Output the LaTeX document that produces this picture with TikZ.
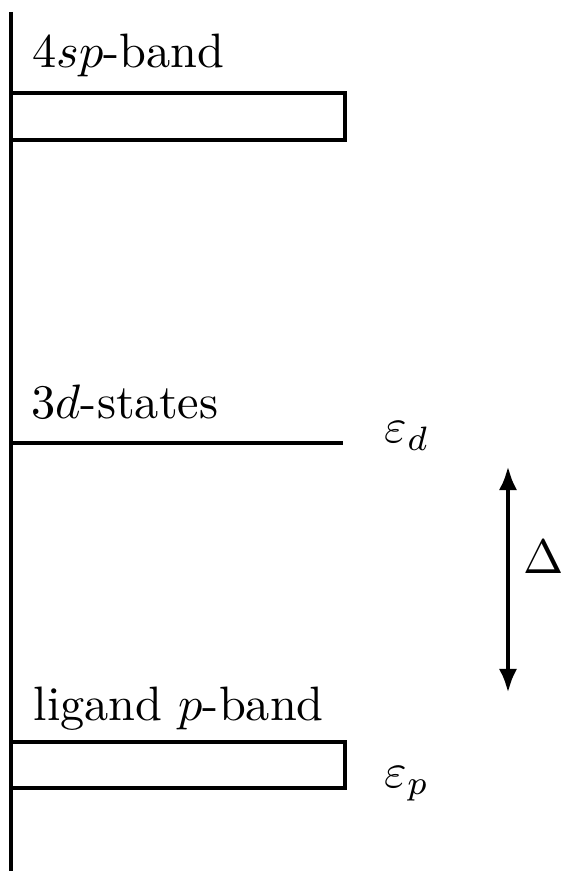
\documentclass[tikz,border=0pt]{standalone}
\usetikzlibrary{arrows.meta}
\begin{document}
\begin{tikzpicture}[x=0.207pt, y=-0.207pt, line width=0.7pt]

	\useasboundingbox (0,0) rectangle (561,871);

	\coordinate (axtop) at (11,12);
	\coordinate (axbot) at (11,871);
	\coordinate (dleft) at (11,443);
	\coordinate (dright) at (343,443);
	\coordinate (gaptop) at (508,466);
	\coordinate (gapbot) at (508,693);

	\node (splabel) [anchor=base west, inner sep=0pt] at (31,68) {$4sp$-band};
	\node (dlabel) [anchor=base west, inner sep=0pt] at (30,419) {$3d$-states};
	\node (plabel) [anchor=base west, inner sep=0pt] at (32,720) {ligand $p$-band};
	\node (epsd) [anchor=base west, inner sep=0pt] at (383,443) {$\varepsilon_d$};
	\node (epsp) [anchor=base west, inner sep=0pt] at (383,787) {$\varepsilon_p$};
	\node (delta) [anchor=base west, inner sep=0pt] at (522,573) {$\Delta$};

	\draw (axtop) -- (axbot);
	\draw (11,93) rectangle (345,140);
	\draw (dleft) -- (dright);
	\draw (11,742) rectangle (345,788);

	\draw[line width=1pt, {Latex[length=5pt,width=3.8pt]}-{Latex[length=5pt,width=3.8pt]}]
	(gaptop) -- (gapbot);

\end{tikzpicture}
\end{document}
